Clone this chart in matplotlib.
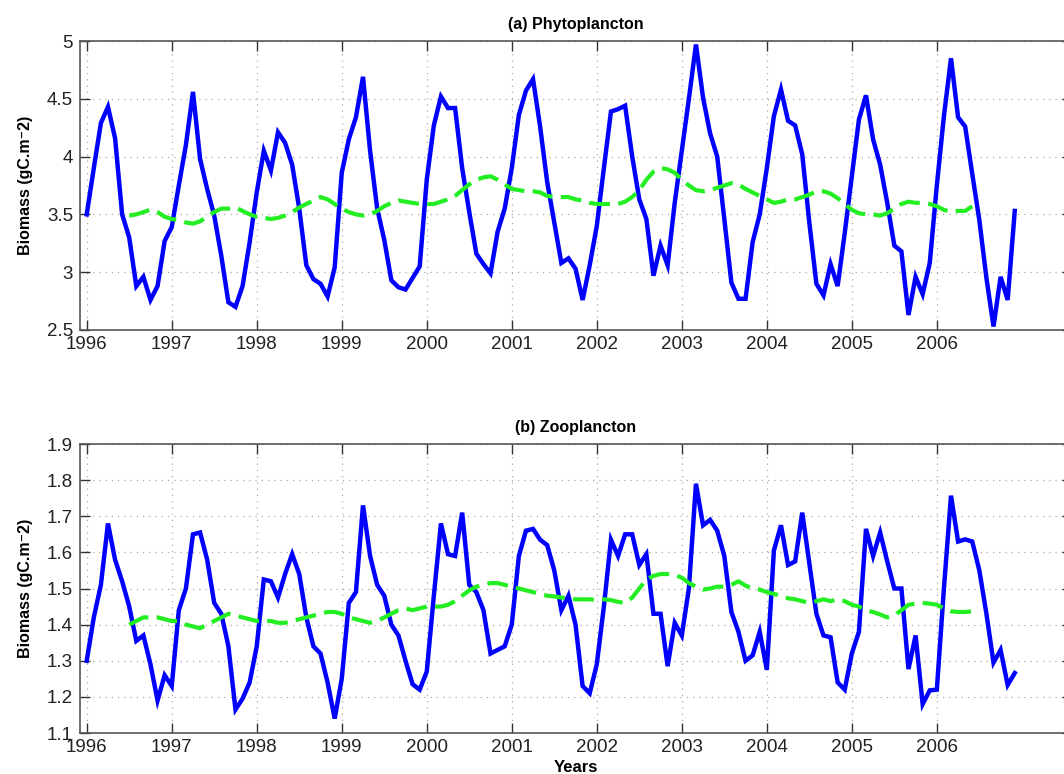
import matplotlib
matplotlib.use("Agg")
import matplotlib.pyplot as plt
import numpy as np

# ---------------- data (monthly, Jan 1996 .. Dec 2006) ----------------
start_year = 1996
years_ticks = list(range(1996, 2007))

phyto = [3.50, 3.90, 4.29, 4.43, 4.16, 3.50, 3.30, 2.88, 2.96, 2.76, 2.88, 3.27,
         3.39, 3.75, 4.10, 4.56, 3.98, 3.72, 3.49, 3.14, 2.74, 2.70, 2.88, 3.26,
         3.69, 4.05, 3.88, 4.21, 4.12, 3.93, 3.55, 3.06, 2.94, 2.90, 2.79, 3.04,
         3.86, 4.15, 4.34, 4.69, 4.05, 3.55, 3.28, 2.93, 2.87, 2.85, 2.95, 3.05,
         3.80, 4.27, 4.52, 4.42, 4.42, 3.90, 3.52, 3.16, 3.07, 2.99, 3.35, 3.55,
         3.90, 4.36, 4.57, 4.67, 4.26, 3.78, 3.43, 3.08, 3.12, 3.03, 2.76, 3.06,
         3.40, 3.90, 4.39, 4.41, 4.44, 4.00, 3.63, 3.46, 2.97, 3.23, 3.06, 3.60,
         4.05, 4.50, 4.97, 4.51, 4.20, 4.00, 3.46, 2.91, 2.77, 2.77, 3.26, 3.50,
         3.90, 4.35, 4.58, 4.31, 4.27, 4.02, 3.43, 2.90, 2.80, 3.07, 2.88, 3.34,
         3.83, 4.32, 4.53, 4.15, 3.93, 3.60, 3.23, 3.18, 2.63, 2.96, 2.81, 3.08,
         3.75, 4.35, 4.85, 4.34, 4.26, 3.85, 3.45, 2.95, 2.53, 2.96, 2.76, 3.53]

phyto_mean = [3.49, 3.50, 3.52, 3.54, 3.52, 3.48, 3.46, 3.45, 3.43, 3.42, 3.44, 3.48,
              3.52, 3.55, 3.55, 3.56, 3.53, 3.50, 3.48, 3.47, 3.46, 3.47, 3.49, 3.52,
              3.56, 3.59, 3.62, 3.65, 3.63, 3.59, 3.55, 3.52, 3.50, 3.49, 3.50, 3.53,
              3.57, 3.60, 3.62, 3.61, 3.60, 3.59, 3.59, 3.59, 3.61, 3.63, 3.66, 3.71,
              3.76, 3.80, 3.82, 3.83, 3.80, 3.76, 3.72, 3.71, 3.70, 3.70, 3.69, 3.66,
              3.65, 3.65, 3.65, 3.63, 3.62, 3.60, 3.59, 3.59, 3.59, 3.59, 3.61, 3.65,
              3.71, 3.80, 3.87, 3.90, 3.89, 3.86, 3.80, 3.75, 3.71, 3.70, 3.71, 3.73,
              3.75, 3.77, 3.76, 3.72, 3.69, 3.66, 3.63, 3.60, 3.61, 3.63, 3.63, 3.65,
              3.67, 3.70, 3.70, 3.68, 3.64, 3.59, 3.54, 3.51, 3.50, 3.50, 3.49, 3.51,
              3.55, 3.59, 3.61, 3.60, 3.60, 3.59, 3.57, 3.54, 3.52, 3.53, 3.53, 3.57]

zoo = [1.300, 1.420, 1.510, 1.680, 1.580, 1.520, 1.450, 1.355, 1.370, 1.290, 1.190, 1.260,
       1.230, 1.440, 1.500, 1.650, 1.655, 1.580, 1.460, 1.430, 1.340, 1.165, 1.195, 1.240,
       1.340, 1.525, 1.520, 1.475, 1.540, 1.595, 1.540, 1.420, 1.340, 1.320, 1.240, 1.140,
       1.250, 1.460, 1.490, 1.730, 1.590, 1.510, 1.480, 1.400, 1.370, 1.300, 1.235, 1.220,
       1.270, 1.480, 1.680, 1.595, 1.590, 1.710, 1.510, 1.490, 1.440, 1.320, 1.330, 1.340,
       1.400, 1.590, 1.660, 1.665, 1.635, 1.620, 1.550, 1.440, 1.480, 1.400, 1.230, 1.210,
       1.290, 1.450, 1.635, 1.590, 1.650, 1.650, 1.565, 1.595, 1.430, 1.430, 1.285, 1.405,
       1.370, 1.500, 1.790, 1.675, 1.690, 1.660, 1.590, 1.435, 1.380, 1.300, 1.315, 1.380,
       1.275, 1.605, 1.675, 1.565, 1.575, 1.710, 1.570, 1.430, 1.370, 1.365, 1.240, 1.220,
       1.320, 1.380, 1.665, 1.590, 1.655, 1.575, 1.500, 1.500, 1.277, 1.370, 1.180, 1.218,
       1.220, 1.500, 1.757, 1.630, 1.636, 1.630, 1.550, 1.430, 1.295, 1.330, 1.233, 1.266]

zoo_mean = [1.400, 1.410, 1.420, 1.420, 1.420, 1.415, 1.410, 1.410, 1.400, 1.395, 1.390, 1.400,
            1.410, 1.420, 1.430, 1.425, 1.420, 1.415, 1.410, 1.410, 1.410, 1.405, 1.405, 1.410,
            1.415, 1.420, 1.425, 1.430, 1.435, 1.435, 1.430, 1.420, 1.415, 1.410, 1.405, 1.410,
            1.420, 1.430, 1.440, 1.445, 1.440, 1.445, 1.450, 1.450, 1.450, 1.455, 1.465, 1.480,
            1.495, 1.505, 1.510, 1.515, 1.515, 1.510, 1.505, 1.500, 1.495, 1.490, 1.485, 1.480,
            1.478, 1.475, 1.472, 1.470, 1.470, 1.470, 1.468, 1.470, 1.468, 1.463, 1.460, 1.475,
            1.500, 1.525, 1.535, 1.540, 1.540, 1.538, 1.530, 1.515, 1.505, 1.497, 1.500, 1.505,
            1.505, 1.510, 1.520, 1.508, 1.500, 1.497, 1.490, 1.485, 1.480, 1.473, 1.470, 1.465,
            1.460, 1.465, 1.470, 1.465, 1.470, 1.465, 1.455, 1.450, 1.440, 1.435, 1.428, 1.420,
            1.425, 1.440, 1.455, 1.458, 1.460, 1.458, 1.455, 1.445, 1.437, 1.435, 1.435, 1.437]

mean_offset = 6  # running mean starts at month index 6

titles = ["(a) Phytoplancton", "(b) Zooplancton"]
ylims = [(2.5, 5.0), (1.1, 1.9)]
yticks = [[2.5, 3, 3.5, 4, 4.5, 5], [1.1, 1.2, 1.3, 1.4, 1.5, 1.6, 1.7, 1.8, 1.9]]
yticklabels = [["2.5", "3", "3.5", "4", "4.5", "5"],
               ["1.1", "1.2", "1.3", "1.4", "1.5", "1.6", "1.7", "1.8", "1.9"]]
ylabel = "Biomass (gC.m\u207b2)"
xlabel = "Years"

# ---------------- plotting ----------------
plt.rcParams['font.family'] = ['Liberation Sans', 'DejaVu Sans']

W, H = 1064, 774
fig = plt.figure(figsize=(W / 100, H / 100), dpi=100)

def px_axes(left, top, right, bottom):
    return [left / W, 1 - bottom / H, (right - left) / W, (bottom - top) / H]

positions = [px_axes(80, 41, 1072, 330), px_axes(80, 444, 1072, 733)]
series = [(phyto, phyto_mean), (zoo, zoo_mean)]

t = start_year + np.arange(len(phyto)) / 12.0
t_mean = start_year + (mean_offset + np.arange(len(phyto_mean))) / 12.0

for i in range(2):
    ax = fig.add_axes(positions[i])
    raw, mean = series[i]
    ax.plot(t, raw, color='#0000ff', lw=3.2, solid_joinstyle='miter', zorder=3)
    ax.plot(t_mean, mean, color='#22ee22', lw=3.0, dashes=(5, 2), zorder=4)
    ax.set_xlim(1995.921, 2007.59)
    ax.set_ylim(*ylims[i])
    ax.set_xticks(years_ticks)
    ax.set_xticklabels([str(y) for y in years_ticks])
    ax.set_yticks(yticks[i])
    ax.set_yticklabels(yticklabels[i])
    ax.tick_params(direction='in', length=7, width=1.0, color='#333333',
                   top=True, right=True, labelsize=13.5, pad=5,
                   labelcolor='#222222')
    ax.tick_params(axis='x', pad=4)
    ax.grid(True, linestyle=(0, (1, 4)), color='#aaaaaa', lw=0.9)
    for s in ax.spines.values():
        s.set_color('#555555')
        s.set_linewidth(1.2)
    ax.set_ylabel(ylabel, fontsize=11.5, fontweight='bold', labelpad=10)
    ax.set_title(titles[i], fontsize=11.5, fontweight='bold', pad=9)
    if i == 1:
        ax.set_xlabel(xlabel, fontsize=12, fontweight='bold', labelpad=3)

fig.savefig("out.png", dpi=100)
